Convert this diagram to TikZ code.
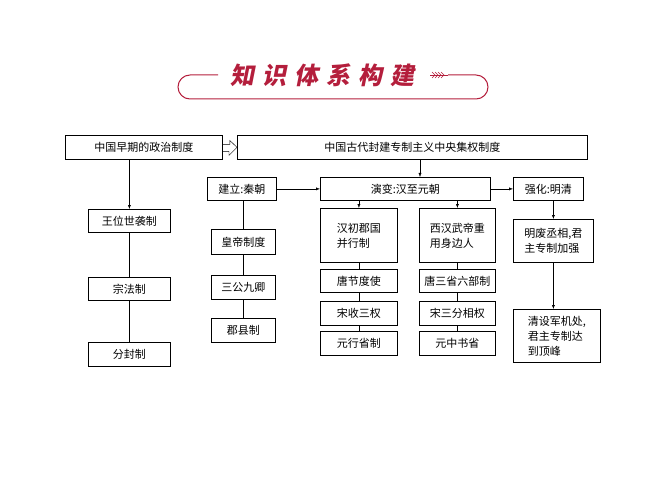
\documentclass[tikz,border=0pt]{standalone}
\usepackage{fontspec}
\setmainfont{Noto Sans CJK SC}
\usetikzlibrary{arrows.meta}
\definecolor{tred}{RGB}{180,30,60}
\begin{document}
\begin{tikzpicture}[x=1pt,y=-1pt,
  bx/.style={draw,thick,font=\fontsize{11}{15}\selectfont,inner sep=0pt,anchor=north west},
  ar/.style={-{Latex[length=4pt,width=3pt]},thin},
  ln/.style={thin}]
\useasboundingbox (0,0) rectangle (667,500);
% title
\draw[tred,line width=1pt,rounded corners=12pt] (218,75) -- (178,75) -- (178,99) -- (488,99) -- (488,75) -- (448,75);
\node[tred,font=\fontsize{24}{26}\selectfont\bfseries,xslant=0.2] (title) at (324,75) {知\hspace{8pt}识\hspace{8pt}体\hspace{8pt}系\hspace{8pt}构\hspace{8pt}建};
\draw[tred,line width=0.8pt] (430,75) -- (448,75);
\foreach \i in {0,3,6,9}{\draw[tred,thin] (432+\i,72) -- (435+\i,75) -- (432+\i,78);}
% boxes
\newcommand\bb[6]{\node[bx,minimum width=#4-#2,minimum height=#5-#3,align=left] (#1) at (#2,#3) {#6};}
\bb{a}{65}{135}{222}{159}{中国早期的政治制度}
\bb{b}{237}{135}{587}{159}{中国古代封建专制主义中央集权制度}
\bb{c}{207}{177}{276}{200}{建立:秦朝}
\bb{d}{320}{177}{490}{200}{演变:汉至元朝}
\bb{e}{513}{177}{583}{200}{强化:明清}
\bb{l1}{88}{209}{170}{232}{王位世袭制}
\bb{l2}{88}{277}{170}{300}{宗法制}
\bb{l3}{88}{342}{170}{366}{分封制}
\bb{c1}{211}{229}{275}{254}{皇帝制度}
\bb{c2}{211}{275}{275}{299}{三公九卿}
\bb{c3}{211}{318}{275}{342}{郡县制}
\bb{h1}{320}{208}{397}{262}{汉初郡国\\并行制}
\bb{h2}{320}{269}{397}{292}{唐节度使}
\bb{h3}{320}{301}{397}{325}{宋收三权}
\bb{h4}{320}{331}{397}{355}{元行省制}
\bb{w1}{419}{208}{495}{262}{西汉武帝重\\用身边人}
\bb{w2}{419}{269}{495}{292}{唐三省六部制}
\bb{w3}{419}{301}{495}{325}{宋三分相权}
\bb{w4}{419}{331}{495}{355}{元中书省}
\bb{m1}{513}{219}{593}{262}{明废丞相,君\\主专制加强}
\bb{m2}{513}{309}{600}{362}{清设军机处,\\君主专制达\\到顶峰}
% connectors
\draw[thin] (a.east) ++(0,-3) -- ++(7,0) -- ++(0,-4) -- (b.west) -- ++(-8,8) -- ++(0,-4) -- ++(-7,0);
\draw[ar] (a.south -| l1.north) -- (l1.north);
\draw[ln] (l1) -- (l2); \draw[ln] (l2) -- (l3);
\draw[ar] (b.south -| 420,0) -- (d.north -| 420,0);
\draw[ar] (c) -- (d); \draw[ar] (d) -- (e);
\draw[ln] (c.south -| c1.north) -- (c1.north);
\draw[ln] (c1) -- (c2); \draw[ln] (c2) -- (c3);
\draw[ar] (d.south -| h1.north) -- (h1.north);
\draw[ar] (d.south -| w1.north) -- (w1.north);
\draw[ln] (h1) -- (h2); \draw[ln] (h2) -- (h3); \draw[ln] (h3) -- (h4);
\draw[ln] (w1) -- (w2); \draw[ln] (w2) -- (w3); \draw[ln] (w3) -- (w4);
\draw[ar] (e.south -| m1.north) -- (m1.north);
\draw[ar] (m1.south) -- (m1.south |- m2.north);
\end{tikzpicture}
\end{document}
